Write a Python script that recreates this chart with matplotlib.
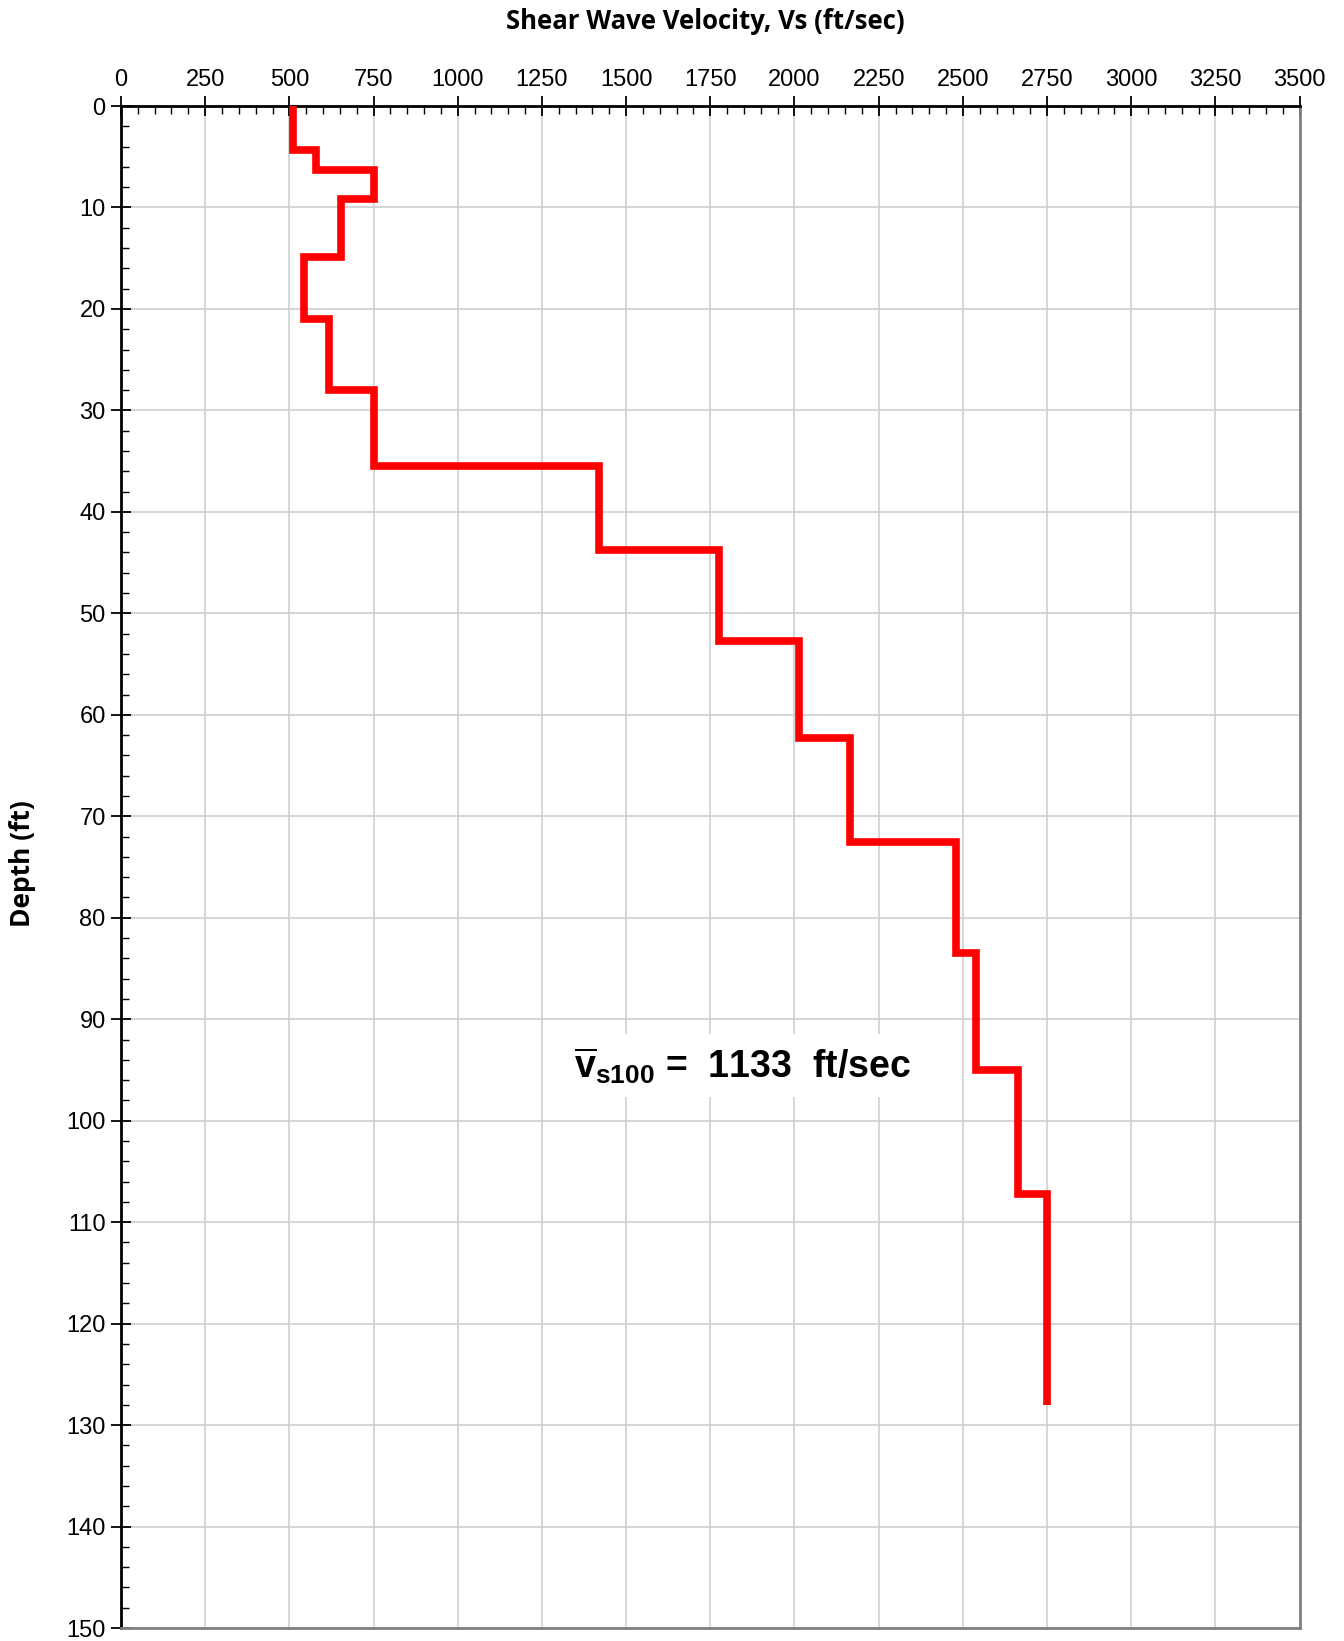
import matplotlib.pyplot as plt
import numpy as np
from matplotlib.ticker import MultipleLocator

# layer velocities (ft/sec) and layer bottom depths (ft)
velocity = [512, 580, 750, 653, 543, 617, 750, 1419, 1777, 2013, 2166, 2480, 2539, 2663, 2750]
layer_bottom = [4.3, 6.3, 9.2, 14.9, 21.0, 28.0, 35.5, 43.8, 52.7, 62.3, 72.5, 83.5, 95.0, 107.2, 128.0]
vs100 = 1133

plt.rcParams["mathtext.fontset"] = "custom"
plt.rcParams["mathtext.bf"] = "Liberation Sans:bold"
plt.rcParams["mathtext.rm"] = "Liberation Sans:bold"

# build step profile
tops = [0] + layer_bottom[:-1]
xs, ys = [], []
for v, t, b in zip(velocity, tops, layer_bottom):
    xs += [v, v]
    ys += [t, b]

fig = plt.figure(figsize=(13.44, 16.41), dpi=100)
ax = fig.add_axes([0.090, 0.0079, 0.877, 0.9275])

ax.plot(xs, ys, color="#ff0000", linewidth=5.5, solid_joinstyle="miter", solid_capstyle="butt", zorder=5)

ax.set_xlim(0, 3500)
ax.set_ylim(150, 0)
ax.xaxis.set_major_locator(MultipleLocator(250))
ax.xaxis.set_minor_locator(MultipleLocator(50))
ax.yaxis.set_major_locator(MultipleLocator(10))
ax.yaxis.set_minor_locator(MultipleLocator(2))
ax.xaxis.tick_top()
ax.grid(True, which="major", color="#d0d0d0", linewidth=1.2)
ax.set_axisbelow(True)

ax.tick_params(axis="x", which="major", direction="inout", length=14, width=1.3, labelsize=17, pad=4)
ax.tick_params(axis="x", which="minor", direction="in", length=6, width=1.0)
ax.tick_params(axis="y", which="major", direction="inout", length=14, width=1.3, labelsize=17, pad=4)
ax.tick_params(axis="y", which="minor", direction="in", length=6, width=1.0)
for lab in ax.get_xticklabels() + ax.get_yticklabels():
    lab.set_fontfamily("Liberation Sans")

ax.spines["top"].set_linewidth(2)
ax.spines["left"].set_linewidth(2)
ax.spines["right"].set_color("#808080")
ax.spines["bottom"].set_color("#808080")
ax.spines["right"].set_linewidth(2)
ax.spines["bottom"].set_linewidth(2)

fig.text(0.525, 0.987, "Shear Wave Velocity, Vs (ft/sec)", ha="center", va="center",
         fontsize=18.5, fontweight="bold", family="Open Sans")
fig.text(0.017, 0.474, "Depth (ft)", ha="center", va="center", rotation=90,
         fontsize=19, fontweight="bold", family="Open Sans")

ax.text(1845, 94.6, r"$\overline{\mathbf{v}}_{\mathbf{s100}}$ =  " + f"{vs100}  ft/sec",
        ha="center", va="center", fontsize=27, fontweight="bold", family="Liberation Sans",
        bbox=dict(facecolor="white", edgecolor="none", pad=8), zorder=4)

fig.savefig("out.png", dpi=100)
